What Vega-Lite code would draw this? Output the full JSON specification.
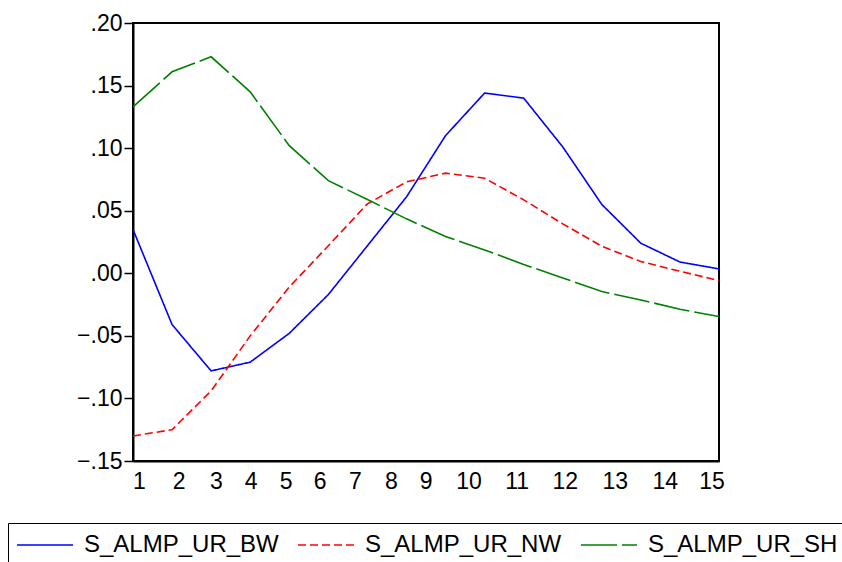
{
  "$schema": "https://vega.github.io/schema/vega-lite/v6.json",
  "width": 586,
  "height": 438,
  "autosize": {"type": "none"},
  "padding": {"left": 133, "top": 23, "right": 123, "bottom": 101},
  "background": "white",
  "config": {
    "view": {"stroke": "black", "strokeWidth": 2},
    "font": "Liberation Sans",
    "axis": {"grid": false, "domainColor": "black", "domainWidth": 2, "tickColor": "black", "labelColor": "black", "labelFont": "Liberation Sans", "labelFontSize": 23, "title": null}
  },
  "datasets": {
    "irf": [
      {"k": 1, "series": "S_ALMP_UR_BW", "v": 0.035},
      {"k": 2, "series": "S_ALMP_UR_BW", "v": -0.041},
      {"k": 3, "series": "S_ALMP_UR_BW", "v": -0.078},
      {"k": 4, "series": "S_ALMP_UR_BW", "v": -0.071},
      {"k": 5, "series": "S_ALMP_UR_BW", "v": -0.048},
      {"k": 6, "series": "S_ALMP_UR_BW", "v": -0.017},
      {"k": 7, "series": "S_ALMP_UR_BW", "v": 0.022},
      {"k": 8, "series": "S_ALMP_UR_BW", "v": 0.061},
      {"k": 9, "series": "S_ALMP_UR_BW", "v": 0.110},
      {"k": 10, "series": "S_ALMP_UR_BW", "v": 0.144},
      {"k": 11, "series": "S_ALMP_UR_BW", "v": 0.140},
      {"k": 12, "series": "S_ALMP_UR_BW", "v": 0.101},
      {"k": 13, "series": "S_ALMP_UR_BW", "v": 0.055},
      {"k": 14, "series": "S_ALMP_UR_BW", "v": 0.024},
      {"k": 15, "series": "S_ALMP_UR_BW", "v": 0.009},
      {"k": 16, "series": "S_ALMP_UR_BW", "v": 0.0035},
      {"k": 1, "series": "S_ALMP_UR_NW", "v": -0.130},
      {"k": 2, "series": "S_ALMP_UR_NW", "v": -0.125},
      {"k": 3, "series": "S_ALMP_UR_NW", "v": -0.094},
      {"k": 4, "series": "S_ALMP_UR_NW", "v": -0.050},
      {"k": 5, "series": "S_ALMP_UR_NW", "v": -0.011},
      {"k": 6, "series": "S_ALMP_UR_NW", "v": 0.022},
      {"k": 7, "series": "S_ALMP_UR_NW", "v": 0.0555},
      {"k": 8, "series": "S_ALMP_UR_NW", "v": 0.073},
      {"k": 9, "series": "S_ALMP_UR_NW", "v": 0.080},
      {"k": 10, "series": "S_ALMP_UR_NW", "v": 0.076},
      {"k": 11, "series": "S_ALMP_UR_NW", "v": 0.0587},
      {"k": 12, "series": "S_ALMP_UR_NW", "v": 0.0395},
      {"k": 13, "series": "S_ALMP_UR_NW", "v": 0.0216},
      {"k": 14, "series": "S_ALMP_UR_NW", "v": 0.0094},
      {"k": 15, "series": "S_ALMP_UR_NW", "v": 0.0016},
      {"k": 16, "series": "S_ALMP_UR_NW", "v": -0.0058},
      {"k": 1, "series": "S_ALMP_UR_SH", "v": 0.133},
      {"k": 2, "series": "S_ALMP_UR_SH", "v": 0.161},
      {"k": 3, "series": "S_ALMP_UR_SH", "v": 0.173},
      {"k": 4, "series": "S_ALMP_UR_SH", "v": 0.145},
      {"k": 5, "series": "S_ALMP_UR_SH", "v": 0.102},
      {"k": 6, "series": "S_ALMP_UR_SH", "v": 0.074},
      {"k": 7, "series": "S_ALMP_UR_SH", "v": 0.059},
      {"k": 8, "series": "S_ALMP_UR_SH", "v": 0.0435},
      {"k": 9, "series": "S_ALMP_UR_SH", "v": 0.0294},
      {"k": 10, "series": "S_ALMP_UR_SH", "v": 0.0187},
      {"k": 11, "series": "S_ALMP_UR_SH", "v": 0.007},
      {"k": 12, "series": "S_ALMP_UR_SH", "v": -0.0037},
      {"k": 13, "series": "S_ALMP_UR_SH", "v": -0.0146},
      {"k": 14, "series": "S_ALMP_UR_SH", "v": -0.0213},
      {"k": 15, "series": "S_ALMP_UR_SH", "v": -0.0288},
      {"k": 16, "series": "S_ALMP_UR_SH", "v": -0.0346}
    ]
  },
  "data": {"name": "irf"},
  "mark": {"type": "line", "strokeWidth": 1.6, "clip": true},
  "encoding": {
    "x": {
      "field": "k",
      "type": "quantitative",
      "scale": {"domain": [1, 16], "nice": false, "zero": false},
      "axis": {
        "values": [1.15, 2.17, 3.12, 4.01, 4.91, 5.78, 6.68, 7.6, 8.49, 9.59, 10.82, 12.05, 13.33, 14.61, 15.81],
        "labelExpr": "indexof([1.15, 2.17, 3.12, 4.01, 4.91, 5.78, 6.68, 7.6, 8.49, 9.59, 10.82, 12.05, 13.33, 14.61, 15.81], datum.value) + 1",
        "ticks": false,
        "labelPadding": 9,
        "labelFlush": false,
        "labelOverlap": false
      }
    },
    "y": {
      "field": "v",
      "type": "quantitative",
      "scale": {"domain": [-0.15, 0.2], "nice": false, "zero": false},
      "axis": {
        "values": [-0.15, -0.1, -0.05, 0, 0.05, 0.1, 0.15, 0.2],
        "labelExpr": "replace(format(datum.value, '.2f'), '0.', '.')",
        "tickSize": 9,
        "tickWidth": 1.5,
        "labelPadding": 2,
        "labelFlush": false,
        "labelOverlap": false
      }
    },
    "color": {
      "field": "series",
      "type": "nominal",
      "scale": {"domain": ["S_ALMP_UR_BW", "S_ALMP_UR_NW", "S_ALMP_UR_SH"], "range": ["#0000FF", "#FF0000", "#008000"]},
      "legend": {
        "title": null,
        "orient": "none",
        "legendX": -125,
        "legendY": 500,
        "direction": "horizontal",
        "columns": 3,
        "strokeColor": "black",
        "padding": 8,
        "clipHeight": 28,
        "symbolType": "stroke",
        "symbolSize": 3136,
        "symbolStrokeWidth": 1.5,
        "labelFont": "Liberation Sans",
        "labelFontSize": 24,
        "labelColor": "black",
        "labelOffset": 10,
        "columnPadding": 18,
        "labelLimit": 400
      }
    },
    "strokeDash": {
      "field": "series",
      "type": "nominal",
      "scale": {"domain": ["S_ALMP_UR_BW", "S_ALMP_UR_NW", "S_ALMP_UR_SH"], "range": [[1, 0], [8, 4], [36, 5]]},
      "legend": null
    }
  }
}
